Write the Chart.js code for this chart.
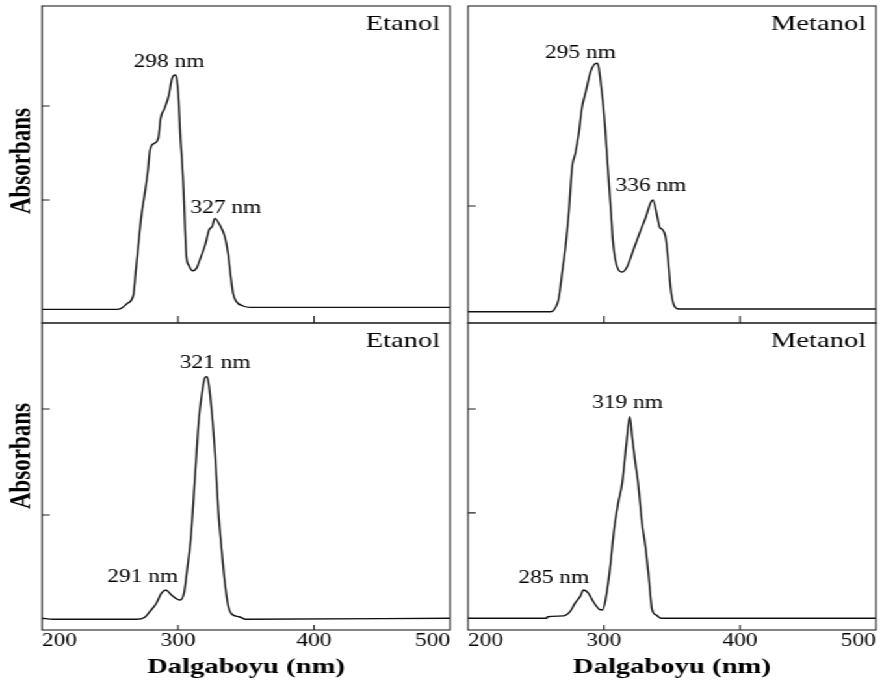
<!DOCTYPE html>
<html>
<head>
<meta charset="utf-8">
<title>UV-Vis spektrumları</title>
<script src="https://cdn.jsdelivr.net/npm/chart.js@4.4.1/dist/chart.umd.min.js"></script>
<style>
    html, body { margin: 0; padding: 0; background: #fff; overflow: hidden; }
    /* the figure is drawn 1.3x wider than tall, so the whole stage is stretched */
    #stage { position: absolute; left: 0; top: 0; width: 690px; height: 686px; transform: scaleX(1.3); transform-origin: 0 0; }
    #stage canvas { position: absolute; }
</style>
</head>
<body>
<div id="stage">
    <canvas id="etanol1" width="352" height="330" style="left:0; top:0"></canvas>
    <canvas id="metanol1" width="340" height="330" style="left:350px; top:0"></canvas>
    <canvas id="etanol2" width="352" height="370" style="left:0; top:316px"></canvas>
    <canvas id="metanol2" width="340" height="370" style="left:350px; top:316px"></canvas>
</div>
<script>
// x axis (nm)
const wavelengthTicks = [200, 300, 400, 500];
const innerTicks = [300, 400];

// upper row, Etanol
const etanol1Nm = [200, 255, 258.1, 262.7, 267.2, 268.8, 271.2, 273.3, 275.4, 277.9, 279.4, 282.5, 285.5, 287.2, 290.1, 293.3, 295.6, 298, 299.2, 300.5, 301.6, 302.9, 304.1, 305.1, 306.2, 307.8, 311, 313.5, 316.9, 320.3, 322.8, 325.3, 327, 330.7, 334.4, 336.8, 338.5, 340.5, 342.9, 347.9, 352.8, 500];
const etanol1Abs = [-0.007, -0.007, -0.002, 0.023, 0.065, 0.174, 0.34, 0.473, 0.565, 0.69, 0.79, 0.823, 0.848, 0.948, 0.998, 1.065, 1.148, 1.165, 1.14, 1.04, 0.873, 0.74, 0.59, 0.407, 0.257, 0.215, 0.186, 0.198, 0.257, 0.323, 0.39, 0.41, 0.448, 0.415, 0.357, 0.273, 0.173, 0.073, 0.032, 0.01, 0.003, 0.003];
const etanol1Peaks = [298, 327];
const etanol1YTicks = [0.54, 1.01];

// upper row, Metanol
const metanol1Nm = [200, 260.7, 263.1, 266.8, 269.2, 271.7, 274.1, 276.6, 279, 281.5, 283.9, 286.4, 290.1, 292.5, 295, 296.1, 298, 299.6, 300.8, 303.1, 305.4, 306.5, 308.9, 313.5, 316.9, 321.6, 326.2, 330.8, 334.2, 336, 339.2, 340.9, 343.3, 345.3, 347.2, 348.9, 351.4, 355.1, 500];
const metanol1Abs = [-0.019, -0.019, -0.01, 0.05, 0.175, 0.305, 0.475, 0.705, 0.775, 0.875, 1.005, 1.075, 1.18, 1.215, 1.224, 1.205, 1.105, 1.005, 0.905, 0.675, 0.455, 0.34, 0.225, 0.18, 0.205, 0.29, 0.375, 0.455, 0.525, 0.54, 0.457, 0.405, 0.39, 0.355, 0.24, 0.105, 0.015, -0.005, -0.005];
const metanol1Peaks = [295, 336];
const metanol1YTicks = [0.51];

// lower row, Etanol
const etanol2Nm = [200, 208, 269.6, 275.6, 279.2, 284.1, 287.8, 291, 295.1, 301.5, 304.4, 306.7, 309.5, 312.5, 315.3, 317.6, 319.6, 321, 322.3, 324.7, 327.2, 329.6, 332.1, 334.5, 337, 339.4, 345, 350, 500];
const etanol2Abs = [0.013, 0.008, 0.008, 0.018, 0.044, 0.084, 0.131, 0.146, 0.123, 0.099, 0.131, 0.241, 0.398, 0.681, 0.948, 1.074, 1.145, 1.152, 1.129, 0.995, 0.791, 0.524, 0.335, 0.178, 0.068, 0.033, 0.02, 0.008, 0.013];
const etanol2Peaks = [321, 291];
const etanol2YTicks = [0.5, 1.0];

// lower row, Metanol
const metanol2Nm = [200, 257.9, 258.5, 270.1, 275, 278.7, 282.4, 285, 288.5, 292.2, 296.6, 299, 301.1, 304.3, 307.4, 310.4, 313.4, 316.5, 319, 320.7, 323.1, 325.1, 328, 330.5, 332.9, 335.4, 338.5, 342, 500];
const metanol2Abs = [0.013, 0.013, 0.02, 0.024, 0.044, 0.084, 0.115, 0.146, 0.131, 0.091, 0.055, 0.052, 0.099, 0.241, 0.429, 0.555, 0.65, 0.838, 0.964, 0.869, 0.744, 0.65, 0.461, 0.35, 0.209, 0.052, 0.028, 0.013, 0.013];
const metanol2Peaks = [319, 285];
const metanol2YTicks = [0.51, 1.0];

const SERIF = 'Liberation Serif';
const INK = '#000';

// frame, inward ticks, solvent name, peak labels and the y title
const panelDecor = {
    id: 'panelDecor',
    afterDraw(chart, args, opts) {
        const { ctx, chartArea: a, scales: { x, y } } = chart;
        ctx.save();

        ctx.strokeStyle = '#222';
        ctx.lineWidth = 1.1;
        ctx.strokeRect(a.left, a.top, a.right - a.left, a.bottom - a.top);

        ctx.beginPath();
        opts.yTicks.forEach(v => {
            const py = y.getPixelForValue(v);
            ctx.moveTo(a.left, py);
            ctx.lineTo(a.left + 6, py);
        });
        innerTicks.forEach(v => {
            const px = x.getPixelForValue(v);
            ctx.moveTo(px, a.bottom);
            ctx.lineTo(px, a.bottom - opts.xTickLen);
        });
        ctx.stroke();

        ctx.fillStyle = INK;
        ctx.textBaseline = 'alphabetic';
        ctx.textAlign = 'right';
        ctx.font = `22px "${SERIF}"`;
        ctx.fillText(opts.solvent, a.right - 7.5, a.top + 24);

        // each label sits over the data point of its own wavelength
        const nm = opts.nm;
        const pts = chart.getDatasetMeta(0).data;
        ctx.textAlign = 'center';
        ctx.font = `18px "${SERIF}"`;
        opts.peaks.forEach((p, i) => {
            const el = pts[nm.indexOf(p)];
            ctx.fillText(`${p} nm`, el.x + opts.labelDx[i], el.y + opts.labelDy[i]);
        });

        if (opts.yTitleY) {
            ctx.translate(17, opts.yTitleY);
            ctx.rotate(-Math.PI / 2);
            ctx.textBaseline = 'middle';
            ctx.font = `bold 23px "${SERIF}"`;
            ctx.fillText('Absorbans', 0, 0);
        }
        ctx.restore();
    }
};

function makePanel(id, nm, abs, decor, bottomRow, padding) {
    const yRange = bottomRow ? { min: -0.0425, max: 1.4057 } : { min: -0.075, max: 1.51 };
    const xScale = {
        type: 'linear',
        min: 200,
        max: 500,
        display: bottomRow,
        afterBuildTicks: s => { s.ticks = wavelengthTicks.map(v => ({ value: v })); },
        grid: { display: false, drawTicks: false },
        border: { display: false },
        ticks: {
            align: 'inner',
            padding: 0,
            color: INK,
            font: { family: SERIF, size: 18 }
        },
        title: {
            display: true,
            text: 'Dalgaboyu (nm)',
            color: INK,
            font: { family: SERIF, size: 22, weight: 'bold' },
            padding: { top: 0, bottom: 5 }
        }
    };
    if (bottomRow) {
        xScale.afterFit = s => { s.height = 56; };
    }

    new Chart(document.getElementById(id), {
        type: 'line',
        data: {
            datasets: [{
                data: nm.map((v, i) => ({ x: v, y: abs[i] })),
                borderColor: '#111',
                borderWidth: 1.4,
                pointRadius: 0,
                fill: false,
                cubicInterpolationMode: 'monotone'
            }]
        },
        options: {
            responsive: false,
            animation: false,
            events: [],
            layout: { padding: padding },
            scales: {
                x: xScale,
                y: {
                    type: 'linear',
                    min: yRange.min,
                    max: yRange.max,
                    display: false
                }
            },
            plugins: {
                legend: { display: false },
                tooltip: { enabled: false },
                panelDecor: Object.assign({ nm: nm, xTickLen: bottomRow ? 5 : 7 }, decor)
            }
        },
        plugins: [panelDecor]
    });
}

makePanel('etanol1', etanol1Nm, etanol1Abs, {
    solvent: 'Etanol', peaks: etanol1Peaks, yTicks: etanol1YTicks,
    labelDx: [-4.8, 8.5], labelDy: [-8, -5], yTitleY: 161
}, false, { left: 32.3, right: 5.85, top: 6, bottom: 7 });

makePanel('metanol1', metanol1Nm, metanol1Abs, {
    solvent: 'Metanol', peaks: metanol1Peaks, yTicks: metanol1YTicks,
    labelDx: [-13, -1.5], labelDy: [-5, -9]
}, false, { left: 10, right: 16.15, top: 6, bottom: 7 });

makePanel('etanol2', etanol2Nm, etanol2Abs, {
    solvent: 'Etanol', peaks: etanol2Peaks, yTicks: etanol2YTicks,
    labelDx: [6.5, -17.7], labelDy: [-9, -8], yTitleY: 140
}, true, { left: 32.3, right: 5.85, top: 7, bottom: 0 });

makePanel('metanol2', metanol2Nm, metanol2Abs, {
    solvent: 'Metanol', peaks: metanol2Peaks, yTicks: metanol2YTicks,
    labelDx: [-1.8, -23], labelDy: [-9, -7]
}, true, { left: 10, right: 16.15, top: 7, bottom: 0 });
</script>
</body>
</html>
